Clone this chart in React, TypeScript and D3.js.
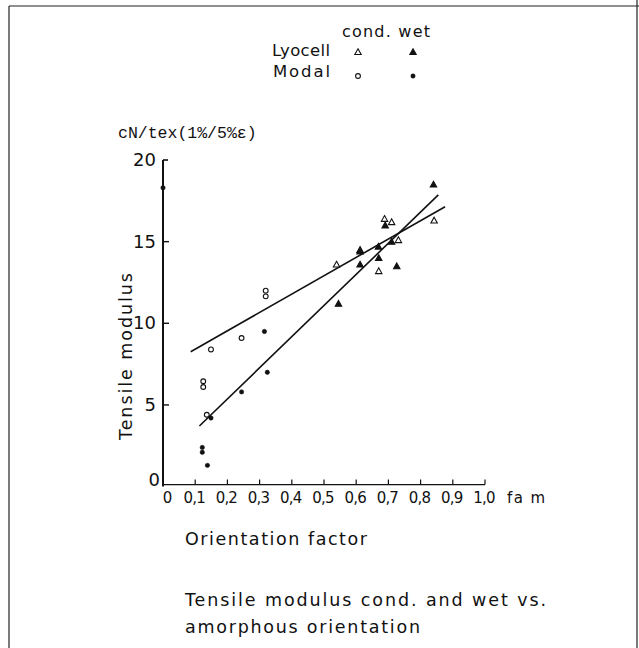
import React from "react";
import * as d3 from "d3";

const xTicks = [0, 0.1, 0.2, 0.3, 0.4, 0.5, 0.6, 0.7, 0.8, 0.9, 1.0];
const xTickLabels = ["0", "0,1", "0,2", "0,3", "0,4", "0,5", "0,6", "0,7", "0,8", "0,9", "1,0"];
const yTicks = [0, 5, 10, 15, 20];

const lyocellCond: [number, number][] = [
  [0.539, 13.6], [0.612, 14.5], [0.67, 13.2], [0.688, 16.4], [0.71, 16.2], [0.731, 15.1], [0.842, 16.3],
];
const lyocellWet: [number, number][] = [
  [0.545, 11.2], [0.612, 14.4], [0.612, 13.6], [0.669, 14.7], [0.67, 14.0], [0.69, 16.0], [0.71, 15.0], [0.726, 13.5], [0.84, 18.5],
];
const modalCond: [number, number][] = [
  [0.125, 6.1], [0.125, 6.45], [0.136, 4.4], [0.149, 8.4], [0.244, 9.1], [0.319, 11.65], [0.319, 12.0],
];
const modalWet: [number, number][] = [
  [0.122, 2.4], [0.122, 2.1], [0.138, 1.3], [0.149, 4.2], [0.244, 5.8], [0.315, 9.5], [0.324, 7.0], [0.0, 18.3],
];
const fitCond: [number, number][] = [[0.086, 8.26], [0.876, 17.14]];
const fitWet: [number, number][] = [[0.113, 3.71], [0.855, 17.86]];

const font = "'DejaVu Sans', 'Liberation Sans', sans-serif";

function Tri({ cx, cy, filled }: { cx: number; cy: number; filled: boolean }) {
  const s = 3.2;
  const d = `M${cx},${cy - s}L${cx + s},${cy + s * 0.8}L${cx - s},${cy + s * 0.8}Z`;
  return <path d={d} fill={filled ? "#111" : "white"} stroke="#111" strokeWidth={1.1} />;
}
function Dot({ cx, cy, filled }: { cx: number; cy: number; filled: boolean }) {
  return <circle cx={cx} cy={cy} r={filled ? 2.2 : 2.4} fill={filled ? "#111" : "white"} stroke="#111" strokeWidth={filled ? 0.5 : 1.1} />;
}

export default function App() {
  const x = d3.scaleLinear().domain([0, 1]).range([163, 485]);
  const y = d3.scaleLinear().domain([0, 20]).range([486.6, 160]);
  const line = d3.line<[number, number]>().x((d) => x(d[0])).y((d) => y(d[1]));

  return (
    <svg width={639} height={648} style={{ position: "absolute", left: 0, top: 0, background: "white" }}>
      {/* frame */}
      <line x1={9} y1={6} x2={639} y2={6} stroke="#222" strokeWidth={1.2} />
      <line x1={9} y1={6} x2={9} y2={648} stroke="#222" strokeWidth={1.2} />
      <line x1={637} y1={0} x2={637} y2={648} stroke="#222" strokeWidth={1.2} />

      {/* legend */}
      <g fontFamily={font} fill="#111">
        <text x={342} y={37} fontSize={16} textLength={88}>cond. wet</text>
        <text x={272} y={56} fontSize={16.5} textLength={58}>Lyocell</text>
        <text x={273} y={77} fontSize={16.5} textLength={57}>Modal</text>
      </g>
      <Tri cx={358} cy={52} filled={false} />
      <Tri cx={413} cy={52} filled={true} />
      <Dot cx={358} cy={76} filled={false} />
      <Dot cx={413} cy={76} filled={true} />

      {/* unit label */}
      <text x={118} y={138} fontSize={16.5} fontFamily="'Liberation Mono', 'DejaVu Sans Mono', monospace" fill="#111">cN/tex(1%/5%ε)</text>

      {/* axes */}
      <line x1={x(0)} y1={y(0)} x2={x(0)} y2={y(20)} stroke="#111" strokeWidth={2} />
      <line x1={x(0)} y1={y(20)} x2={x(0) + 5} y2={y(20)} stroke="#111" strokeWidth={1.6} />
      <line x1={x(0)} y1={y(0) - 2} x2={x(1)} y2={y(0) - 2} stroke="#111" strokeWidth={1.4} />
      {xTicks.slice(1).map((t) => (
        <line key={t} x1={x(t)} x2={x(t)} y1={y(0) - 2} y2={y(0) - 7} stroke="#111" strokeWidth={1.2} />
      ))}
      {yTicks.slice(1, 4).map((t) => (
        <line key={t} x1={x(0)} x2={x(0) + 6} y1={y(t)} y2={y(t)} stroke="#111" strokeWidth={1.4} />
      ))}
      <g fontFamily={font} fill="#111" fontSize={18}>
        {yTicks.slice(1).map((t) => (
          <text key={t} x={x(0) - 7} y={y(t) + 6} textAnchor="end">{t}</text>
        ))}
        <text x={x(0) - 3} y={y(0) - 1} textAnchor="end">0</text>
      </g>
      <g fontFamily={font} fill="#111" fontSize={15}>
        {xTicks.map((t, i) => (
          <text key={t} x={x(t) + (i === 0 ? 4 : -1)} y={503} textAnchor="middle" letterSpacing={-0.8}>{xTickLabels[i]}</text>
        ))}
        <text x={507} y={503} fontSize={15} textLength={38}>fa m</text>
      </g>

      {/* axis titles */}
      <text x={185} y={545} fontFamily={font} fontSize={17.5} fill="#111" textLength={182}>Orientation factor</text>
      <text transform="translate(132,440) rotate(-90)" fontFamily={font} fontSize={17.5} fill="#111" textLength={167}>Tensile modulus</text>

      {/* fits */}
      <path d={line(fitCond) || ""} fill="none" stroke="#111" strokeWidth={1.6} />
      <path d={line(fitWet) || ""} fill="none" stroke="#111" strokeWidth={1.6} />

      {/* data */}
      {lyocellCond.map((d, i) => <Tri key={"lc" + i} cx={x(d[0])} cy={y(d[1])} filled={false} />)}
      {lyocellWet.map((d, i) => <Tri key={"lw" + i} cx={x(d[0])} cy={y(d[1])} filled={true} />)}
      {modalCond.map((d, i) => <Dot key={"mc" + i} cx={x(d[0])} cy={y(d[1])} filled={false} />)}
      {modalWet.map((d, i) => <Dot key={"mw" + i} cx={x(d[0])} cy={y(d[1])} filled={true} />)}

      {/* caption */}
      <g fontFamily={font} fontSize={17.5} fill="#111">
        <text x={185} y={606} textLength={361}>Tensile modulus cond. and wet vs.</text>
        <text x={185} y={633} textLength={235}>amorphous orientation</text>
      </g>
    </svg>
  );
}
